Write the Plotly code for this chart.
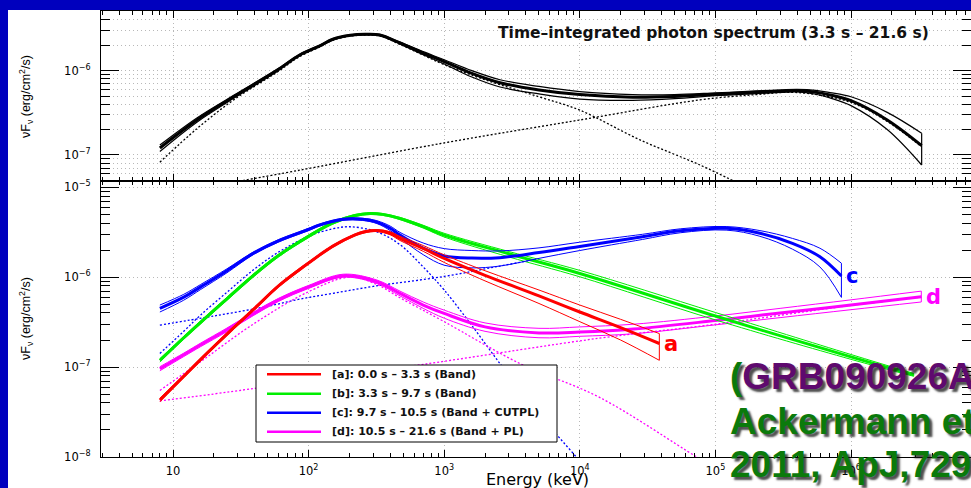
import numpy as np
import plotly.graph_objects as go

W, H = 971, 488
def px(x): return x / W
def py(y): return 1 - y / H

# ---------------- data ----------------
# top panel: time-integrated spectrum
ti_E   = [8, 15, 28, 58, 86, 120, 151, 203, 261, 335, 472, 700, 1000, 1600, 2580, 5000, 1e4, 2.45e4, 5e4, 1e5, 2e5, 3e5, 4e5, 5.5e5, 7e5, 1e6, 1.85e6, 3.32e6]
ti_mid = [1.21e-7, 2.6e-7, 4.9e-7, 1.0e-6, 1.535e-6, 1.96e-6, 2.36e-6, 2.63e-6, 2.70e-6, 2.65e-6, 2.13e-6, 1.62e-6, 1.28e-6, 9.3e-7, 7.2e-7, 5.9e-7, 5.2e-7, 4.85e-7, 4.95e-7, 5.25e-7, 5.55e-7, 5.72e-7, 5.8e-7, 5.55e-7, 5.15e-7, 4.4e-7, 2.6e-7, 1.29e-7]
ti_hi  = [1.31e-7, 2.75e-7, 5.1e-7, 1.03e-6, 1.57e-6, 2.0e-6, 2.4e-6, 2.67e-6, 2.74e-6, 2.69e-6, 2.18e-6, 1.68e-6, 1.35e-6, 1.0e-6, 7.8e-7, 6.5e-7, 5.65e-7, 5.2e-7, 5.2e-7, 5.45e-7, 5.75e-7, 5.9e-7, 6.0e-7, 5.85e-7, 5.5e-7, 4.9e-7, 3.2e-7, 1.81e-7]
ti_lo  = [1.1e-7, 2.45e-7, 4.7e-7, 9.7e-7, 1.5e-6, 1.92e-6, 2.32e-6, 2.59e-6, 2.66e-6, 2.61e-6, 2.08e-6, 1.55e-6, 1.2e-6, 8.4e-7, 6.4e-7, 5.3e-7, 4.6e-7, 4.45e-7, 4.65e-7, 5.05e-7, 5.35e-7, 5.52e-7, 5.6e-7, 5.25e-7, 4.75e-7, 3.85e-7, 2.0e-7, 7.6e-8]
ti_band_E = [8, 15, 28, 58, 86, 120, 151, 203, 261, 335, 472, 700, 1000, 2000, 5000, 1e4, 2.78e4, 7.7e4, 1.4e5]
ti_band   = [8.2e-8, 2.05e-7, 4.5e-7, 9.5e-7, 1.47e-6, 1.9e-6, 2.3e-6, 2.57e-6, 2.64e-6, 2.58e-6, 2.05e-6, 1.53e-6, 1.18e-6, 7.8e-7, 4.9e-7, 3.4e-7, 1.51e-7, 7.6e-8, 4.8e-8]
ti_cpl_E  = [25, 86, 1000, 1e4, 7.7e4, 2e5, 4e5, 1e6, 1.85e6, 3.32e6]
ti_cpl    = [4.6e-8, 6.6e-8, 1.39e-7, 2.6e-7, 4.5e-7, 5.2e-7, 5.5e-7, 4.2e-7, 2.5e-7, 1.25e-7]

# bottom panel: [a] Band
a_E   = [8, 12, 18, 27, 40, 60, 86, 100, 150, 220, 260, 319, 400, 472, 700, 1000, 2000, 5000, 1e4, 2e4, 3.86e4]
a_mid = [4.3e-8, 7.9e-8, 1.45e-7, 2.6e-7, 4.5e-7, 8.0e-7, 1.22e-6, 1.44e-6, 2.2e-6, 2.95e-6, 3.2e-6, 3.3e-6, 3.08e-6, 2.7e-6, 2.09e-6, 1.62e-6, 1.05e-6, 6.2e-7, 4.1e-7, 2.75e-7, 1.83e-7]
a_hi  = [4.5e-8, 8.2e-8, 1.5e-7, 2.7e-7, 4.65e-7, 8.25e-7, 1.26e-6, 1.48e-6, 2.26e-6, 3.02e-6, 3.28e-6, 3.38e-6, 3.2e-6, 2.85e-6, 2.25e-6, 1.77e-6, 1.18e-6, 7.2e-7, 4.9e-7, 3.4e-7, 2.36e-7]
a_lo  = [4.1e-8, 7.6e-8, 1.4e-7, 2.5e-7, 4.35e-7, 7.75e-7, 1.18e-6, 1.4e-6, 2.14e-6, 2.88e-6, 3.12e-6, 3.22e-6, 2.96e-6, 2.56e-6, 1.94e-6, 1.46e-6, 9.1e-7, 5.1e-7, 3.2e-7, 2.0e-7, 1.19e-7]

# [b] Band
b_E   = [8, 12, 16, 25, 39, 60, 100, 150, 220, 284, 350, 472, 700, 1000, 3000, 1e4, 1e5, 1e6, 2.9e6]
b_mid = [1.19e-7, 2.12e-7, 3.15e-7, 5.75e-7, 1.04e-6, 1.74e-6, 2.85e-6, 4.0e-6, 4.85e-6, 5.1e-6, 5.0e-6, 4.5e-6, 3.65e-6, 2.94e-6, 1.82e-6, 1.1e-6, 3.7e-7, 1.3e-7, 8.2e-8]
b_hi  = [1.24e-7, 2.2e-7, 3.28e-7, 5.98e-7, 1.08e-6, 1.8e-6, 2.95e-6, 4.12e-6, 4.98e-6, 5.22e-6, 5.12e-6, 4.62e-6, 3.78e-6, 3.08e-6, 1.93e-6, 1.19e-6, 4.05e-7, 1.38e-7, 8.5e-8]
b_lo  = [1.14e-7, 2.04e-7, 3.03e-7, 5.53e-7, 1.0e-6, 1.68e-6, 2.75e-6, 3.88e-6, 4.72e-6, 4.98e-6, 4.88e-6, 4.38e-6, 3.52e-6, 2.8e-6, 1.68e-6, 1.01e-6, 3.35e-7, 1.22e-7, 7.9e-8]

# [c] Band + CUTPL
c_E   = [8, 12, 16, 25, 39, 60, 100, 120, 180, 250, 319, 400, 472, 700, 1000, 1600, 2570, 5000, 1e4, 2.9e4, 5.5e4, 1.2e5, 2.13e5, 3.7e5, 5.9e5, 8.5e5]
c_mid = [4.5e-7, 6.0e-7, 7.8e-7, 1.18e-6, 1.84e-6, 2.54e-6, 3.4e-6, 3.8e-6, 4.4e-6, 4.4e-6, 4.1e-6, 3.5e-6, 2.94e-6, 2.1e-6, 1.72e-6, 1.63e-6, 1.65e-6, 1.88e-6, 2.2e-6, 2.82e-6, 3.29e-6, 3.5e-6, 3.08e-6, 2.38e-6, 1.69e-6, 1.03e-6]
c_hi  = [4.9e-7, 6.45e-7, 8.3e-7, 1.24e-6, 1.9e-6, 2.62e-6, 3.5e-6, 3.9e-6, 4.5e-6, 4.52e-6, 4.25e-6, 3.7e-6, 3.15e-6, 2.4e-6, 2.08e-6, 1.98e-6, 1.96e-6, 2.12e-6, 2.45e-6, 3.0e-6, 3.45e-6, 3.66e-6, 3.3e-6, 2.7e-6, 2.1e-6, 1.43e-6]
c_lo  = [4.1e-7, 5.55e-7, 7.3e-7, 1.12e-6, 1.78e-6, 2.46e-6, 3.3e-6, 3.7e-6, 4.3e-6, 4.28e-6, 3.95e-6, 3.3e-6, 2.72e-6, 1.78e-6, 1.36e-6, 1.27e-6, 1.33e-6, 1.62e-6, 1.98e-6, 2.63e-6, 3.12e-6, 3.34e-6, 2.85e-6, 2.05e-6, 1.3e-6, 5.96e-7]
cb_E  = [8, 12, 16, 25, 39, 60, 100, 150, 202, 319, 472, 700, 1000, 1600, 2570, 4000, 6500, 1e4, 1.3e4]
cb    = [1.42e-7, 2.5e-7, 3.8e-7, 6.8e-7, 1.2e-6, 1.9e-6, 2.85e-6, 3.45e-6, 3.64e-6, 3.2e-6, 2.3e-6, 1.3e-6, 7.2e-7, 2.9e-7, 1.1e-7, 4.6e-8, 1.9e-8, 9.0e-9, 5.5e-9]
cc_E  = [8, 20, 50, 86, 150, 300, 1000, 2570, 5000]
cc    = [2.93e-7, 3.7e-7, 4.75e-7, 5.7e-7, 6.6e-7, 7.9e-7, 1.02e-6, 1.33e-6, 1.6e-6]

# [d] Band + PL
d_E   = [8, 12, 16, 25, 39, 60, 100, 180, 319, 472, 700, 1000, 2000, 5000, 1e4, 2.5e4, 1e5, 3e5, 1e6, 3.3e6]
d_mid = [9.6e-8, 1.37e-7, 1.77e-7, 2.6e-7, 3.9e-7, 5.6e-7, 7.8e-7, 1.04e-6, 8.9e-7, 6.6e-7, 4.9e-7, 3.95e-7, 2.8e-7, 2.4e-7, 2.45e-7, 2.65e-7, 3.3e-7, 4.0e-7, 4.9e-7, 6.05e-7]
d_hi  = [1.01e-7, 1.43e-7, 1.85e-7, 2.72e-7, 4.07e-7, 5.82e-7, 8.1e-7, 1.08e-6, 9.3e-7, 7.0e-7, 5.3e-7, 4.3e-7, 3.1e-7, 2.7e-7, 2.8e-7, 3.0e-7, 3.7e-7, 4.5e-7, 5.6e-7, 7.0e-7]
d_lo  = [9.1e-8, 1.31e-7, 1.69e-7, 2.48e-7, 3.73e-7, 5.38e-7, 7.5e-7, 1.0e-6, 8.5e-7, 6.2e-7, 4.5e-7, 3.5e-7, 2.5e-7, 2.12e-7, 2.2e-7, 2.35e-7, 2.95e-7, 3.55e-7, 4.35e-7, 5.3e-7]
db_E  = [8, 16, 39, 100, 200, 319, 472, 1000, 3600, 1.4e4, 7.3e4, 1.2e5]
db    = [5.5e-8, 1.15e-7, 3.0e-7, 6.9e-7, 1.0e-6, 8.3e-7, 5.9e-7, 3.2e-7, 1.1e-7, 4.6e-8, 1.0e-8, 6.5e-9]
dp_E  = [8, 26, 785, 1.4e4, 1e5, 1e6, 3.3e6]
dp    = [4.2e-8, 5.3e-8, 1.1e-7, 2.1e-7, 3.0e-7, 4.85e-7, 6.0e-7]

legend_labels = ["[a]: 0.0 s \u2013 3.3 s (Band)",
                 "[b]: 3.3 s \u2013 9.7 s (Band)",
                 "[c]: 9.7 s \u2013 10.5 s (Band + CUTPL)",
                 "[d]: 10.5 s \u2013 21.6 s (Band + PL)"]
series_colors = ["#FF0000", "#00EE00", "#0000FF", "#FF00FF"]
x_tickvals = [10, 1e2, 1e3, 1e4, 1e5, 1e6]
x_ticktext = ["10", "10<sup>2</sup>", "10<sup>3</sup>", "10<sup>4</sup>", "10<sup>5</sup>", "10<sup>6</sup>"]
yb_tickvals = [1e-8, 1e-7, 1e-6, 1e-5]
yb_ticktext = ["10<sup>\u22128</sup>", "10<sup>\u22127</sup>", "10<sup>\u22126</sup>", "10<sup>\u22125</sup>"]
yt_tickvals = [1e-7, 1e-6]
yt_ticktext = ["10<sup>\u22127</sup>", "10<sup>\u22126</sup>"]

# ---------------- figure ----------------
fig = go.Figure()
SM = 1.0
DOT = "2px,2px"

def add_line(E, v, color, width, xa, ya, dash=None):
    fig.add_trace(go.Scatter(x=E, y=v, mode="lines", xaxis=xa, yaxis=ya,
                             line=dict(color=color, width=width, dash=dash, shape="spline", smoothing=SM),
                             showlegend=False, hoverinfo="skip"))

def add_band(E, mid, hi, lo, color, xa, ya, thin=1.0, thick=3.0, close=True):
    add_line(E, hi, color, thin, xa, ya)
    add_line(E, lo, color, thin, xa, ya)
    if close:
        fig.add_trace(go.Scatter(x=[E[-1], E[-1]], y=[hi[-1], lo[-1]], mode="lines", xaxis=xa, yaxis=ya,
                                 line=dict(color=color, width=thin), showlegend=False, hoverinfo="skip"))
    add_line(E, mid, color, thick, xa, ya)

# top panel
add_line(ti_band_E, ti_band, "black", 1.3, "x2", "y2", dash=DOT)
add_line(ti_cpl_E, ti_cpl, "black", 1.3, "x2", "y2", dash=DOT)
add_band(ti_E, ti_mid, ti_hi, ti_lo, "black", "x2", "y2", thin=1.2, thick=3.0)

# bottom panel
add_line(cb_E, cb, series_colors[2], 1.3, "x", "y", dash=DOT)
add_line(cc_E, cc, series_colors[2], 1.3, "x", "y", dash=DOT)
add_line(db_E, db, series_colors[3], 1.3, "x", "y", dash=DOT)
add_line(dp_E, dp, series_colors[3], 1.3, "x", "y", dash=DOT)
add_band(d_E, d_mid, d_hi, d_lo, series_colors[3], "x", "y")
add_band(b_E, b_mid, b_hi, b_lo, series_colors[1], "x", "y")
add_band(c_E, c_mid, c_hi, c_lo, series_colors[2], "x", "y")
add_band(a_E, a_mid, a_hi, a_lo, series_colors[0], "x", "y")

minor_x = [k * 10.0 ** n for n in range(0, 7) for k in range(2, 10)]
minor_y = [k * 10.0 ** n for n in range(-9, -4) for k in range(2, 10)]

GRID = "#b8b8b8"
GDASH = "1px,3px"
tickfont = dict(family="DejaVu Sans", size=11.5, color="black")
xcommon = dict(type="log", range=[0.469, 6.885], domain=[px(101), 1.0],
               showline=True, linecolor="black", linewidth=1.2, mirror="allticks",
               ticks="inside", ticklen=7, tickwidth=1.2, tickcolor="black",
               tickmode="array", tickvals=x_tickvals, ticktext=x_ticktext,
               showgrid=True, gridcolor=GRID, griddash=GDASH, gridwidth=1,
               zeroline=False, tickfont=tickfont, automargin=False,
               minor=dict(tickmode="array", tickvals=minor_x, ticks="inside", ticklen=4,
                          tickwidth=1, tickcolor="black", showgrid=False))
ycommon = dict(type="log", showline=True, linecolor="black", linewidth=1.2, mirror="allticks",
               ticks="inside", ticklen=18, tickwidth=1.2, tickcolor="black", tickmode="array",
               showgrid=True, gridcolor=GRID, griddash=GDASH, gridwidth=1, automargin=False,
               zeroline=False, tickfont=tickfont, ticklabelstandoff=7)
fig.update_layout(
    xaxis=dict(xcommon, anchor="y", showticklabels=True, ticklabelstandoff=3),
    xaxis2=dict(xcommon, anchor="y2", showticklabels=False, matches="x"),
    yaxis=dict(ycommon, range=[-8, -4.930], domain=[31 / H, 307 / H], anchor="x",
               tickvals=yb_tickvals, ticktext=yb_ticktext,
               minor=dict(tickmode="array", tickvals=minor_y, ticks="inside", ticklen=9,
                          tickwidth=1, tickcolor="black", showgrid=False)),
    yaxis2=dict(ycommon, range=[-7.309, -5.292], domain=[307 / H, 477 / H], anchor="x2",
                tickvals=yt_tickvals, ticktext=yt_ticktext,
                minor=dict(tickmode="array", tickvals=minor_y, ticks="inside", ticklen=9,
                           tickwidth=1, tickcolor="black", showgrid=True,
                           gridcolor=GRID, griddash=GDASH, gridwidth=1)),
    width=W, height=H, margin=dict(l=0, r=0, t=0, b=0, pad=0, autoexpand=False),
    paper_bgcolor="#0000BE", plot_bgcolor="white", showlegend=False,
)

shapes = [dict(type="rect", xref="paper", yref="paper", x0=px(8), x1=1.0, y0=0, y1=py(10),
               fillcolor="white", line=dict(width=0), layer="below")]
# legend box
shapes.append(dict(type="rect", xref="paper", yref="paper", x0=px(256), x1=px(557), y0=py(442), y1=py(365),
                   fillcolor="white", line=dict(color="black", width=1), layer="above"))
leg_y = [374.3, 393.7, 412.7, 431.7]
annotations = []
for lab, col, yy in zip(legend_labels, series_colors, leg_y):
    shapes.append(dict(type="line", xref="paper", yref="paper", x0=px(267), x1=px(321), y0=py(yy), y1=py(yy),
                       line=dict(color=col, width=2.5), layer="above"))
    annotations.append(dict(xref="paper", yref="paper", x=px(330), y=py(yy), xanchor="left", yanchor="middle",
                            text="<b>" + lab + "</b>", showarrow=False,
                            font=dict(family="DejaVu Sans", size=11, color="#111")))

# series end labels
for lab, E, v, col in [("a", a_E, a_mid, series_colors[0]), ("c", c_E, c_mid, series_colors[2]),
                       ("d", d_E, d_mid, series_colors[3])]:
    annotations.append(dict(xref="x", yref="y", x=np.log10(E[-1]), y=np.log10(v[-1]), xanchor="left",
                            yanchor="middle", xshift=3, text="<b>" + lab + "</b>", showarrow=False,
                            font=dict(family="DejaVu Sans", size=21, color=col)))

# panel title
annotations.append(dict(xref="paper", yref="paper", x=px(496), y=py(33), xanchor="left", yanchor="middle",
                        text="<b>Time\u2013integrated photon spectrum (3.3 s \u2013 21.6 s)</b>", showarrow=False,
                        font=dict(family="DejaVu Sans", size=15.5, color="#111")))
# axis titles
ytitle = "\u03bdF<sub>\u03bd</sub> (erg/cm<sup>2</sup>/s)"
for yc in (97, 319):
    annotations.append(dict(xref="paper", yref="paper", x=px(26), y=py(yc), xanchor="center", yanchor="middle",
                            text=ytitle, textangle=-90, showarrow=False,
                            font=dict(family="Liberation Sans", size=12.5, color="black")))
annotations.append(dict(xref="paper", yref="paper", x=px(484), y=py(479.5), xanchor="left", yanchor="middle",
                        text="Energy (keV)", showarrow=False,
                        font=dict(family="DejaVu Sans", size=16, color="black")))

# overlay citation text
green, purple = "#0B7A0B", "#5E0A6E"
shadow = "3px 3px 2px rgba(20,20,20,0.75)"
ov = [("<b><span style='color:%s'>(</span>GRB090926A)</b>" % green, purple, 376),
      ("<b>Ackermann et al.</b>", green, 421.5),
      ("<b>2011, ApJ,729, 114)</b>", green, 464)]
for txt, col, yc in ov:
    annotations.append(dict(xref="paper", yref="paper", x=px(728), y=py(yc), xanchor="left", yanchor="middle",
                            text=txt, showarrow=False,
                            font=dict(family="Liberation Sans", size=37, color=col, shadow=shadow)))

fig.update_layout(shapes=shapes, annotations=annotations)
fig.write_html(
    "out.html",
    config={"displayModeBar": False},
    post_script=("document.documentElement.style.margin='0px';"
                 "document.documentElement.style.overflow='hidden';"
                 "document.body.style.margin='0px';"
                 "document.body.style.overflow='hidden';"),
)
